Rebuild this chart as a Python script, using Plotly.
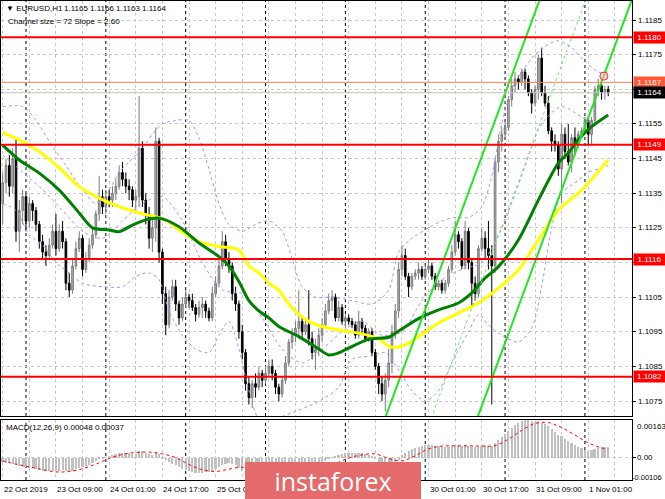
import plotly.graph_objects as go

W, H = 665, 499

# ---------------- data (EURUSD H1, bar index 0 = 22 Oct 17:00) ----------------
opens = [1.1132,1.1138,1.1143,1.1137,1.1145,1.1124,1.1130,1.1134,1.1127,1.1132,
 1.1130,1.1126,1.1121,1.1118,1.1117,1.1120,1.1124,1.1119,1.1124,1.1121,
 1.1109,1.1107,1.1114,1.1119,1.1122,1.1113,1.1116,1.1120,1.1123,1.1129,
 1.1134,1.1131,1.1134,1.1133,1.1135,1.1137,1.1141,1.1139,1.1137,1.1136,
 1.1133,1.1134,1.1148,1.1133,1.1129,1.1122,1.1125,1.1150,1.1118,1.1106,
 1.1097,1.1105,1.1108,1.1103,1.1099,1.1103,1.1105,1.1104,1.1102,1.1100,
 1.1102,1.1103,1.1101,1.1099,1.1106,1.1109,1.1114,1.1121,1.1116,1.1114,
 1.1106,1.1103,1.1095,1.1089,1.1080,1.1076,1.1080,1.1079,1.1083,1.1081,
 1.1083,1.1085,1.1083,1.1079,1.1077,1.1081,1.1086,1.1092,1.1094,1.1096,
 1.1098,1.1095,1.1097,1.1093,1.1089,1.1090,1.1094,1.1097,1.1101,1.1104,
 1.1105,1.1099,1.1102,1.1098,1.1099,1.1098,1.1097,1.1094,1.1098,1.1096,
 1.1093,1.1095,1.1089,1.1085,1.1080,1.1077,1.1081,1.1086,1.1095,1.1101,
 1.1113,1.1117,1.1111,1.1108,1.1111,1.1112,1.1113,1.1111,1.1113,1.1114,
 1.1111,1.1108,1.1109,1.1107,1.1109,1.1113,1.1118,1.1123,1.1121,1.1114,
 1.1124,1.1115,1.1109,1.1106,1.1119,1.1122,1.1119,1.1117,1.1114,1.1144,
 1.1150,1.1152,1.1154,1.1162,1.1166,1.1168,1.1167,1.1170,1.1168,1.1164,
 1.1161,1.1165,1.1174,1.1164,1.1161,1.1153,1.1150,1.1149,1.1142,1.1152,
 1.1147,1.1144,1.1151,1.1149,1.1152,1.1153,1.1156,1.1152,1.1156,1.1165,
 1.1166,1.1164,1.1165]
highs = [1.1141,1.1145,1.1146,1.1148,1.1151,1.1133,1.1136,1.1135,1.1134,1.1133,
 1.1131,1.1127,1.1123,1.1120,1.1122,1.1126,1.1129,1.1126,1.1127,1.1122,
 1.1112,1.1116,1.1121,1.1124,1.1123,1.1118,1.1122,1.1125,1.1130,1.1140,
 1.1136,1.1136,1.1136,1.1137,1.1139,1.1143,1.1144,1.1141,1.1139,1.1137,
 1.1136,1.1163,1.1150,1.1135,1.1131,1.1128,1.1154,1.1151,1.1119,1.1108,
 1.1107,1.1110,1.1110,1.1104,1.1105,1.1107,1.1106,1.1106,1.1103,1.1104,
 1.1105,1.1104,1.1102,1.1108,1.1111,1.1116,1.1124,1.1123,1.1118,1.1115,
 1.1108,1.1104,1.1097,1.1090,1.1082,1.1081,1.1083,1.1085,1.1084,1.1085,
 1.1087,1.1087,1.1084,1.1080,1.1082,1.1088,1.1093,1.1096,1.1098,1.1107,
 1.1099,1.1099,1.1107,1.1095,1.1093,1.1096,1.1099,1.1103,1.1106,1.1107,
 1.1106,1.1104,1.1103,1.1100,1.1100,1.1099,1.1098,1.1101,1.1099,1.1097,
 1.1096,1.1096,1.1090,1.1086,1.1082,1.1083,1.1090,1.1097,1.1103,1.1115,
 1.1120,1.1119,1.1112,1.1112,1.1113,1.1115,1.1114,1.1114,1.1116,1.1115,
 1.1112,1.1110,1.1110,1.1110,1.1114,1.1120,1.1127,1.1124,1.1122,1.1127,
 1.1125,1.1116,1.1111,1.1120,1.1125,1.1124,1.1127,1.1120,1.1145,1.1152,
 1.1154,1.1156,1.1163,1.1168,1.1170,1.1169,1.1171,1.1171,1.1169,1.1165,
 1.1166,1.1175,1.1177,1.1166,1.1163,1.1154,1.1152,1.1150,1.1155,1.1154,
 1.1155,1.1152,1.1154,1.1153,1.1154,1.1157,1.1157,1.1157,1.1166,1.1168,
 1.1167,1.1166,1.1166]
lows = [1.1126,1.1135,1.1134,1.1135,1.1121,1.1118,1.1126,1.1124,1.1125,1.1127,
 1.1124,1.1119,1.1116,1.1114,1.1116,1.1119,1.1117,1.1118,1.1119,1.1107,
 1.1105,1.1106,1.1113,1.1118,1.1111,1.1112,1.1115,1.1119,1.1122,1.1127,
 1.1129,1.1129,1.1131,1.1131,1.1133,1.1136,1.1137,1.1135,1.1133,1.1131,
 1.1130,1.1131,1.1131,1.1126,1.1119,1.1118,1.1121,1.1115,1.1103,1.1094,
 1.1096,1.1104,1.1101,1.1097,1.1098,1.1102,1.1102,1.1101,1.1098,1.1099,
 1.1099,1.1099,1.1098,1.1098,1.1105,1.1108,1.1113,1.1114,1.1112,1.1104,
 1.1101,1.1093,1.1087,1.1078,1.1074,1.1073,1.1076,1.1078,1.1079,1.1080,
 1.1082,1.1081,1.1077,1.1075,1.1076,1.1080,1.1085,1.1090,1.1092,1.1093,
 1.1093,1.1094,1.1091,1.1087,1.1084,1.1088,1.1092,1.1096,1.1100,1.1101,
 1.1098,1.1098,1.1097,1.1096,1.1097,1.1096,1.1093,1.1093,1.1094,1.1092,
 1.1092,1.1088,1.1084,1.1077,1.1075,1.1072,1.1079,1.1083,1.1093,1.1099,
 1.1111,1.1110,1.1105,1.1107,1.1110,1.1110,1.1110,1.1110,1.1112,1.1110,
 1.1107,1.1107,1.1106,1.1106,1.1108,1.1112,1.1117,1.1119,1.1113,1.1113,
 1.1113,1.1102,1.1104,1.1105,1.1118,1.1116,1.1113,1.1074,1.1112,1.1141,
 1.1147,1.1151,1.1153,1.1160,1.1164,1.1165,1.1166,1.1165,1.1163,1.1158,
 1.1160,1.1162,1.1163,1.1160,1.1152,1.1147,1.1147,1.1140,1.1132,1.1145,
 1.1143,1.1141,1.1146,1.1148,1.1151,1.1152,1.1149,1.1149,1.1155,1.1163,
 1.1162,1.1162,1.1163]
closes = [1.1138,1.1143,1.1137,1.1145,1.1124,1.1130,1.1134,1.1127,1.1132,1.1130,
 1.1126,1.1121,1.1118,1.1117,1.1120,1.1124,1.1119,1.1124,1.1121,1.1109,
 1.1107,1.1114,1.1119,1.1122,1.1113,1.1116,1.1120,1.1123,1.1129,1.1134,
 1.1131,1.1134,1.1133,1.1135,1.1137,1.1141,1.1139,1.1137,1.1136,1.1133,
 1.1134,1.1148,1.1133,1.1129,1.1122,1.1125,1.1150,1.1118,1.1106,1.1097,
 1.1105,1.1108,1.1103,1.1099,1.1103,1.1105,1.1104,1.1102,1.1100,1.1102,
 1.1103,1.1101,1.1099,1.1106,1.1109,1.1114,1.1121,1.1116,1.1114,1.1106,
 1.1103,1.1095,1.1089,1.1080,1.1076,1.1080,1.1079,1.1083,1.1081,1.1083,
 1.1085,1.1083,1.1079,1.1077,1.1081,1.1086,1.1092,1.1094,1.1096,1.1098,
 1.1095,1.1097,1.1093,1.1089,1.1090,1.1094,1.1097,1.1101,1.1104,1.1105,
 1.1099,1.1102,1.1098,1.1099,1.1098,1.1097,1.1094,1.1098,1.1096,1.1093,
 1.1095,1.1089,1.1085,1.1080,1.1077,1.1081,1.1086,1.1095,1.1101,1.1113,
 1.1117,1.1111,1.1108,1.1111,1.1112,1.1113,1.1111,1.1113,1.1114,1.1111,
 1.1108,1.1109,1.1107,1.1109,1.1113,1.1118,1.1123,1.1121,1.1114,1.1124,
 1.1115,1.1109,1.1106,1.1119,1.1122,1.1119,1.1117,1.1114,1.1144,1.1150,
 1.1152,1.1154,1.1162,1.1166,1.1168,1.1167,1.1170,1.1168,1.1164,1.1161,
 1.1165,1.1174,1.1164,1.1161,1.1153,1.1150,1.1149,1.1142,1.1152,1.1147,
 1.1144,1.1151,1.1149,1.1152,1.1153,1.1156,1.1152,1.1156,1.1165,1.1166,
 1.1164,1.1165,1.1164]

# moving averages (sampled at bar indices)
yellow_i = [0,5,11,17,23,29,35,41,49,53,59,65,71,74,77,80,83,86,89,92,95,101,107,113,116,119,122,125,131,137,143,149,155,161,167,173,176,182]
yellow_v = [1.11525,1.11504,1.11470,1.11423,1.11369,1.11336,1.11311,1.11293,1.11273,1.11244,1.11210,1.11196,1.11186,1.11140,1.11120,1.11090,1.11070,1.11030,1.11000,1.10980,1.10968,1.10955,1.10946,1.10930,1.10908,1.10906,1.10917,1.10936,1.10975,1.11004,1.11033,1.11076,1.11128,1.11215,1.11301,1.11350,1.11379,1.11446]
green_i = [0,5,11,17,23,27,32,35,39,43,47,53,59,65,68,71,74,77,80,83,89,95,98,101,104,110,116,119,125,131,137,141,145,149,155,161,167,170,173,177,182]
green_v = [1.11489,1.11446,1.11408,1.11359,1.11293,1.11250,1.11244,1.11239,1.11258,1.11273,1.11278,1.11253,1.11206,1.11167,1.11140,1.11095,1.11040,1.11010,1.10990,1.10965,1.10936,1.10900,1.10883,1.10889,1.10903,1.10928,1.10934,1.10952,1.10988,1.11013,1.11033,1.11062,1.11105,1.11138,1.11215,1.11330,1.11437,1.11466,1.11504,1.11542,1.11576]

# Bollinger bands (sampled)
bb_up_i = [0,6,10,14,19,24,28,32,35,38,42,45,48,52,56,59,62,65,68,72,76,80,84,87,90,94,99,105,111,116,119,123,128,132,136,140,144,147,150,153,156,160,164,167,171,175,179,182]
bb_up_v = [1.1160,1.1160,1.1156,1.1150,1.1143,1.1136,1.1132,1.1136,1.1141,1.1144,1.1148,1.1152,1.1155,1.1156,1.1156,1.1151,1.1142,1.1132,1.1126,1.1124,1.1126,1.1127,1.1124,1.1116,1.1108,1.1105,1.1105,1.1104,1.1103,1.1107,1.1118,1.1122,1.1125,1.1127,1.1128,1.1128,1.1131,1.1140,1.1155,1.1165,1.1170,1.1175,1.1178,1.1179,1.1177,1.1173,1.1170,1.1170]
bb_mid_i = [0,6,12,18,24,30,36,42,48,54,60,66,72,78,84,90,96,102,108,114,120,126,132,138,144,150,156,162,168,174,178,182]
bb_mid_v = [1.1146,1.1141,1.1136,1.1130,1.1124,1.1122,1.1127,1.1132,1.1134,1.1127,1.1115,1.1107,1.1106,1.1099,1.1090,1.1086,1.1090,1.1095,1.1098,1.1094,1.1095,1.1104,1.1110,1.1113,1.1115,1.1125,1.1140,1.1155,1.1160,1.1157,1.1155,1.1158]
bb_lo_i = [0,4,8,12,16,20,24,30,36,40,44,47,50,54,58,62,65,68,71,74,77,82,88,93,97,101,105,111,115,119,123,127,131,135,140,143,146,150,155,159,162,165,168,172,176,179,182]
bb_lo_v = [1.1132,1.1130,1.1123,1.1120,1.1115,1.1112,1.1109,1.1108,1.1108,1.1111,1.1112,1.1110,1.1101,1.1094,1.1090,1.1089,1.1094,1.1098,1.1090,1.1078,1.1070,1.1070,1.1072,1.1074,1.1076,1.1079,1.1087,1.1088,1.1089,1.1084,1.1078,1.1075,1.1078,1.1086,1.1095,1.1100,1.1097,1.1094,1.1092,1.1096,1.1108,1.1125,1.1135,1.1138,1.1141,1.1142,1.1143]

# MACD (units of 1e-5)
macd_main = [-20,-22,-25,-26,-32,-38,-40,-42,-44,-46,-48,-52,-56,-58,-58,-57,-57,-56,-55,-58,
 -60,-56,-50,-44,-42,-38,-32,-25,-16,-8,-2,
 2,6,10,14,18,20,20,19,17,16,30,28,22,14,10,26,14,-2,
 -12,-20,-26,-34,-42,-48,-54,-60,-64,-66,-68,-66,-64,-62,-56,-48,-40,-30,-26,-24,
 -28,-34,-44,-56,-70,-84,-92,-98,-102,-104,-106,-104,-102,-100,-98,-94,-88,-80,-72,-64,
 -56,-50,-44,-40,-36,-32,-26,-20,-14,-6,
 2,8,12,15,18,20,21,20,20,19,16,12,6,
 -8,-18,-28,-36,-38,-34,-24,-10,
 12,22,30,36,42,48,52,56,
 56,55,52,50,48,47,48,50,54,55,52,54,52,48,45,48,52,53,52,50,
 62,76,90,102,116,130,142,150,157,161,163,160,156,158,152,
 145,135,124,113,100,92,82,72,62,54,46,40,34,30,32,38,43,45,47,48]
sig_i = [0,4,8,12,16,20,24,28,32,36,40,44,48,52,56,60,64,68,72,76,80,84,88,92,96,100,104,108,112,116,120,124,128,132,136,140,144,148,152,156,160,164,168,172,176,180,182]
sig_v = [-14,-28,-40,-52,-62,-60,-48,-28,-4,14,22,24,16,0,-30,-52,-60,-50,-42,-58,-84,-98,-94,-76,-52,-26,-2,12,16,-4,-14,8,38,50,51,51,50,52,80,118,148,152,130,98,64,42,37]

levels_red = [1.1180, 1.1149, 1.1116, 1.1082]
level_orange = 1.1167
level_bid = 1.1164
price_ticks = [1.1185,1.1175,1.1155,1.1145,1.1135,1.1125,1.1105,1.1095,1.1085,1.1075]
grid_prices = [1.1075,1.1085,1.1095,1.1105,1.1115,1.1125,1.1135,1.1145,1.1155,1.1165,1.1175,1.1185]
day_starts = [7,31,55,79,103,127,151,175]
xlabels_i = [0,16,32,48,64,128,144,160,176]
xlabels_t = ['22 Oct 2019','23 Oct 09:00','24 Oct 01:00','24 Oct 17:00','25 Oct 09:00',
             '30 Oct 01:00','30 Oct 17:00','31 Oct 09:00','1 Nov 01:00']
header_ohlc = ['1.1165', '1.1166', '1.1163', '1.1164']

# regression channel
ch_anchor_i, ch_anchor_p = 148, 1.1084
ch_slope_pips = 2.60
ch_size_pips = 72
ch_x = [100, 200]

# ---------------- geometry helpers ----------------
def px_x(p):
    return p / W
def px_y(p):
    return 1 - p / H

FONT = "Liberation Sans, Arial, sans-serif"
bars = list(range(len(closes)))
x_range = [-0.51, 189.15]
main_top, main_bot = 1, 416
macd_top, macd_bot = 420, 480
axis_right = 632
p_top = 1.1185 + 19 * 0.00002887
p_bot = 1.1185 - (main_bot - 20) * 0.00002887

fig = go.Figure()
fig.add_trace(go.Candlestick(
    x=bars, open=opens, high=highs, low=lows, close=closes,
    increasing=dict(line=dict(color='#7a7a7a', width=1), fillcolor='#b4b4b4'),
    decreasing=dict(line=dict(color='#000000', width=1), fillcolor='#000000'),
    whiskerwidth=0, hoverinfo='skip', showlegend=False, xaxis='x', yaxis='y'))

bb_style = dict(color='#b98be8', width=1, dash='dot')
for xi, yv in [(bb_up_i, bb_up_v), (bb_mid_i, bb_mid_v), (bb_lo_i, bb_lo_v)]:
    fig.add_trace(go.Scatter(x=xi, y=yv, mode='lines', line=dict(shape='spline', smoothing=0.8, **bb_style),
                             hoverinfo='skip', showlegend=False, xaxis='x', yaxis='y'))

fig.add_trace(go.Scatter(x=yellow_i, y=yellow_v, mode='lines',
                         line=dict(color='#ffff00', width=3, shape='spline', smoothing=0.8),
                         hoverinfo='skip', showlegend=False, xaxis='x', yaxis='y'))
fig.add_trace(go.Scatter(x=green_i, y=green_v, mode='lines',
                         line=dict(color='#008000', width=3, shape='spline', smoothing=0.8),
                         hoverinfo='skip', showlegend=False, xaxis='x', yaxis='y'))

# channel lines
def ch_line(offset_pips):
    return [ch_anchor_p + (offset_pips + ch_slope_pips * (x - ch_anchor_i)) * 0.0001 for x in ch_x]
fig.add_trace(go.Scatter(x=ch_x, y=ch_line(0), mode='lines', line=dict(color='#22e622', width=2),
                         hoverinfo='skip', showlegend=False, xaxis='x', yaxis='y'))
fig.add_trace(go.Scatter(x=ch_x, y=ch_line(ch_size_pips), mode='lines', line=dict(color='#22e622', width=2),
                         hoverinfo='skip', showlegend=False, xaxis='x', yaxis='y'))
fig.add_trace(go.Scatter(x=ch_x, y=ch_line(ch_size_pips / 2), mode='lines',
                         line=dict(color='#5ef05e', width=1, dash='dot'),
                         hoverinfo='skip', showlegend=False, xaxis='x', yaxis='y'))

# alert marker
fig.add_trace(go.Scatter(x=[180.7], y=[1.11688], mode='markers',
                         marker=dict(symbol='circle', size=8, color='rgba(255,180,200,0.6)',
                                     line=dict(color='#ff3030', width=1)),
                         hoverinfo='skip', showlegend=False, xaxis='x', yaxis='y'))

# MACD
fig.add_trace(go.Bar(x=bars, y=[v * 1e-5 for v in macd_main], marker=dict(color='#c0c0c0', line=dict(width=0)),
                     width=0.6, hoverinfo='skip', showlegend=False, xaxis='x2', yaxis='y2'))
fig.add_trace(go.Scatter(x=sig_i, y=[v * 1e-5 for v in sig_v], mode='lines',
                         line=dict(color='#ff0000', width=1, dash='dot', shape='spline'),
                         hoverinfo='skip', showlegend=False, xaxis='x2', yaxis='y2'))

grid_i = list(range(0, 190, 8))
common_x = dict(range=x_range, domain=[px_x(1), px_x(axis_right)], showgrid=True, tickvals=grid_i,
                gridcolor='#c8c8c8', griddash='3px,3px', gridwidth=1, showticklabels=False, ticks='',
                showline=True, linecolor='black', linewidth=1, mirror=True, zeroline=False, fixedrange=True)

shapes = []
for d in day_starts:
    for yr in ['y domain', 'y2 domain']:
        shapes.append(dict(type='line', xref='x' if yr == 'y domain' else 'x2', yref=yr, x0=d, x1=d, y0=0, y1=1,
                           line=dict(color='black', width=1, dash='dot'), layer='below'))
for lv in levels_red:
    shapes.append(dict(type='line', xref='x domain', yref='y', x0=0, x1=1, y0=lv, y1=lv,
                       line=dict(color='#ff0000', width=2), layer='above'))
shapes.append(dict(type='line', xref='x domain', yref='y', x0=0, x1=1, y0=level_orange, y1=level_orange,
                   line=dict(color='#ff7f50', width=1), layer='above'))
shapes.append(dict(type='line', xref='x domain', yref='y', x0=0, x1=1, y0=level_bid, y1=level_bid,
                   line=dict(color='#c0c0c0', width=1), layer='above'))

SZ = 8
ann = []
for p in price_ticks:
    ann.append(dict(xref='paper', yref='y', x=px_x(636), y=p, text=f'{p:.4f}', showarrow=False,
                    xanchor='left', yanchor='middle', font=dict(family=FONT, size=SZ, color='black')))
for lv in levels_red:
    ann.append(dict(xref='paper', yref='y', x=px_x(633), y=lv, text=f'{lv:.4f}', showarrow=False,
                    xanchor='left', yanchor='middle', bgcolor='#ff0000', borderpad=1, width=29,
                    font=dict(family=FONT, size=SZ, color='white')))
ann.append(dict(xref='paper', yref='y', x=px_x(633), y=level_orange, text=f'{level_orange:.4f}', showarrow=False,
                xanchor='left', yanchor='middle', bgcolor='#ff5a36', borderpad=1, width=29,
                font=dict(family=FONT, size=SZ, color='white')))
ann.append(dict(xref='paper', yref='y', x=px_x(633), y=level_bid, text=f'{level_bid:.4f}', showarrow=False,
                xanchor='left', yanchor='middle', bgcolor='#000000', borderpad=1, width=29,
                font=dict(family=FONT, size=SZ, color='white')))
for txt, ypx in [('0.00163', 426), ('0.00', 457.5)]:
    ann.append(dict(xref='paper', yref='paper', x=px_x(635), y=px_y(ypx), text=txt, showarrow=False,
                    xanchor='left', yanchor='middle', font=dict(family=FONT, size=SZ, color='black')))
ann.append(dict(xref='paper', yref='paper', x=px_x(664), y=px_y(477), text='-0.00106', showarrow=False,
                xanchor='right', yanchor='middle', font=dict(family=FONT, size=7.5, color='black')))
for xi, t in zip(xlabels_i, xlabels_t):
    ann.append(dict(xref='x2', yref='paper', x=xi, y=px_y(489), text=t, showarrow=False, xshift=-1,
                    xanchor='left', yanchor='middle', font=dict(family=FONT, size=SZ, color='black')))
ann.append(dict(xref='paper', yref='paper', x=px_x(4), y=px_y(8.5),
                text='\u25bc EURUSD,H1', showarrow=False,
                xanchor='left', yanchor='middle', font=dict(family=FONT, size=8, color='black')))
for k, t in enumerate(header_ohlc):
    ann.append(dict(xref='paper', yref='paper', x=px_x(62 + 26 * k), y=px_y(8.5), text=t, showarrow=False,
                    xanchor='left', yanchor='middle', font=dict(family=FONT, size=8, color='black')))
ann.append(dict(xref='paper', yref='paper', x=px_x(6), y=px_y(21.5),
                text=f'Channel size = {ch_size_pips} Slope = {ch_slope_pips:.2f}', showarrow=False,
                xanchor='left', yanchor='middle', font=dict(family=FONT, size=8, color='black')))
ann.append(dict(xref='paper', yref='paper', x=px_x(4), y=px_y(427),
                text='MACD(12,26,9) 0.00048 0.00037', showarrow=False,
                xanchor='left', yanchor='middle', font=dict(family=FONT, size=8, color='black')))
# watermark logo (last so it covers labels)
ann.append(dict(xref='paper', yref='paper', x=px_x(333), y=px_y(480.5), text='instaforex', showarrow=False,
                xanchor='center', yanchor='middle', width=176, height=37, borderpad=0, borderwidth=0,
                bgcolor='#e36b6b', font=dict(family='Open Sans, Roboto, sans-serif', size=25, color='white')))

fig.update_layout(
    width=W, height=H, margin=dict(l=0, r=0, t=0, b=0),
    paper_bgcolor='white', plot_bgcolor='white', showlegend=False, bargap=0,
    xaxis=dict(anchor='y', rangeslider=dict(visible=False), **common_x),
    xaxis2=dict(anchor='y2', **common_x),
    yaxis=dict(anchor='x', domain=[px_y(main_bot), px_y(main_top)], range=[p_bot, p_top], side='right',
               tickvals=grid_prices, showticklabels=False, ticks='outside', ticklen=3, tickcolor='black',
               showgrid=True, gridcolor='#c8c8c8', griddash='3px,3px', showline=True, linecolor='black',
               mirror=True, zeroline=False, fixedrange=True),
    yaxis2=dict(anchor='x2', domain=[px_y(macd_bot), px_y(macd_top)], range=[-0.00097, 0.00163], side='right',
                tickvals=[0], showticklabels=False, ticks='outside', ticklen=3, tickcolor='black',
                showgrid=True, gridcolor='#c8c8c8', griddash='3px,3px', showline=True, linecolor='black',
                mirror=True, zeroline=False, fixedrange=True),
    shapes=shapes, annotations=ann,
)

fig.write_html("out.html", config={'displayModeBar': False},
               post_script="document.body.style.margin='0';document.body.style.overflow='hidden';")
